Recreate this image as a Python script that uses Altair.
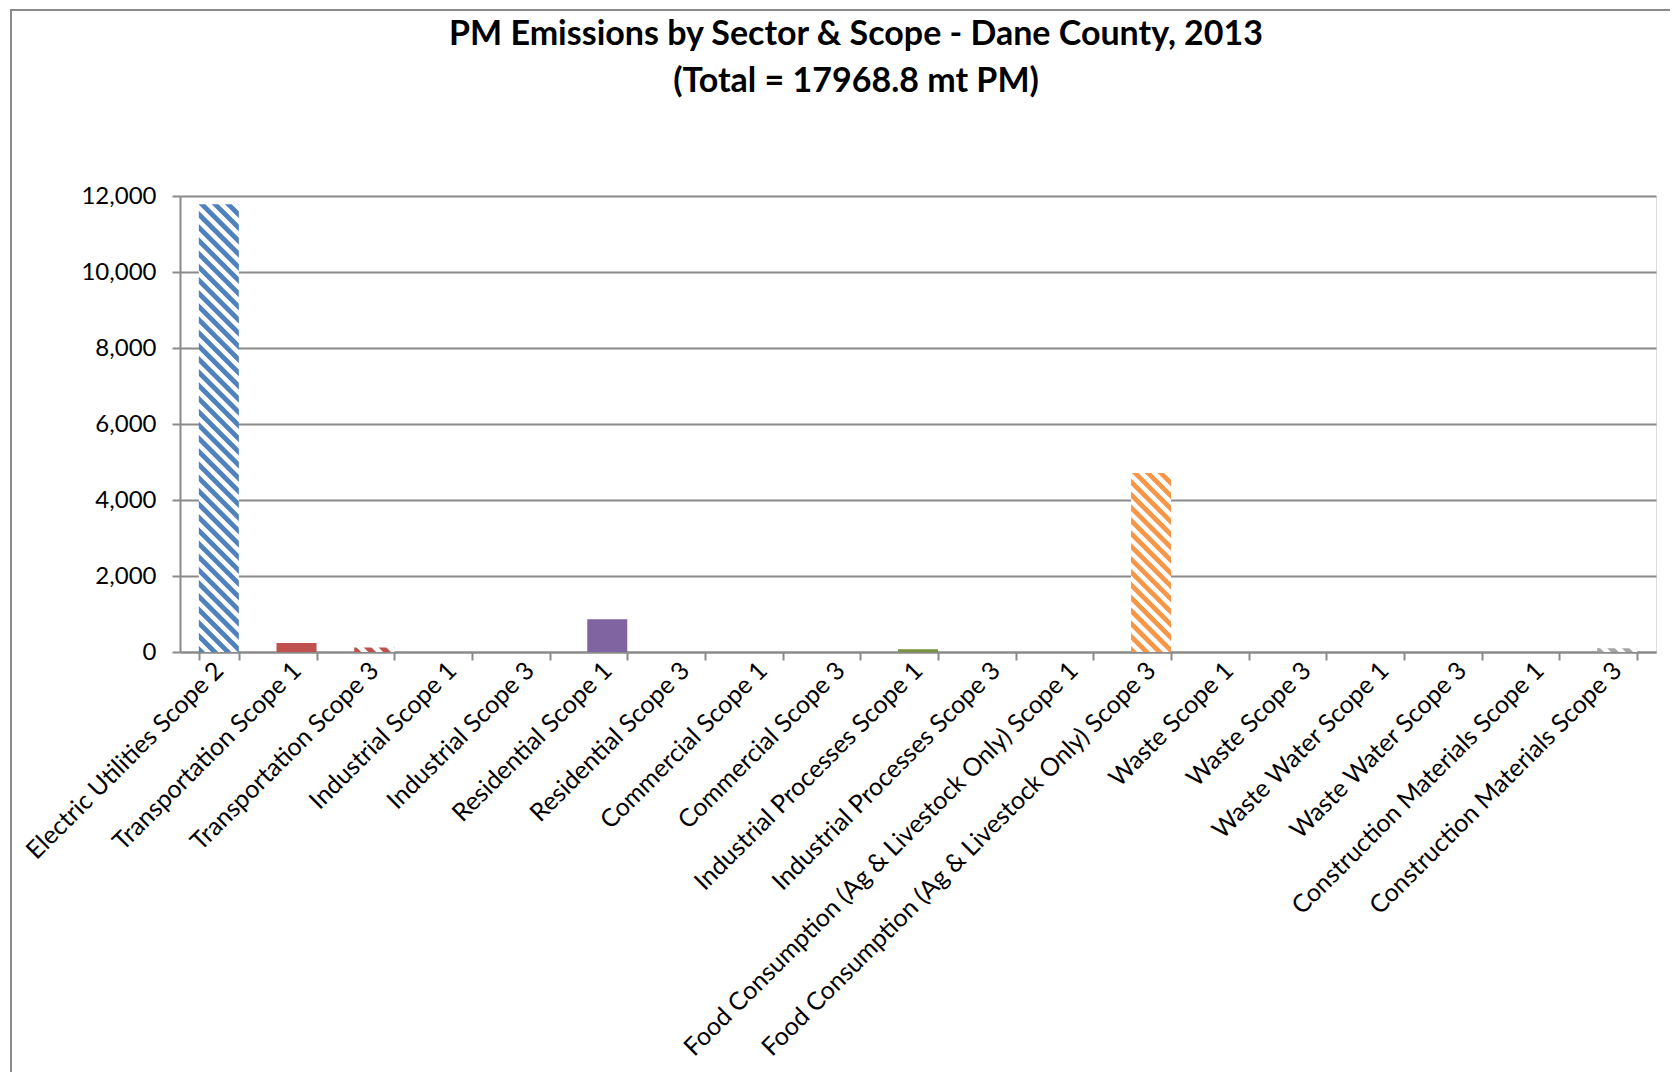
import math
import altair as alt
import pandas as pd

# ---------------- data ----------------
categories = [
    "Electric Utilities Scope 2",
    "Transportation Scope 1",
    "Transportation Scope 3",
    "Industrial Scope 1",
    "Industrial Scope 3",
    "Residential Scope 1",
    "Residential Scope 3",
    "Commercial Scope 1",
    "Commercial Scope 3",
    "Industrial Processes Scope 1",
    "Industrial Processes Scope 3",
    "Food Consumption (Ag & Livestock Only) Scope 1",
    "Food Consumption (Ag & Livestock Only) Scope 3",
    "Waste Scope 1",
    "Waste Scope 3",
    "Waste Water Scope 1",
    "Waste Water Scope 3",
    "Construction Materials Scope 1",
    "Construction Materials Scope 3",
]
values = [11780, 240, 120, 0, 0, 860, 0, 0, 0, 70, 0, 0, 4710, 0, 0, 0, 0, 0, 100]
colors = [
    "#4F81BD", "#C0504D", "#C0504D", "#9BBB59", "#9BBB59", "#8064A2", "#8064A2",
    "#4BACC6", "#4BACC6", "#77933C", "#77933C", "#F79646", "#F79646",
    "#2C4D75", "#2C4D75", "#772C2A", "#772C2A", "#A5A5A5", "#A5A5A5",
]
hatched = [c.endswith("Scope 2") or c.endswith("Scope 3") for c in categories]

y_ticks = [0, 2000, 4000, 6000, 8000, 10000, 12000]
title_lines = ["PM Emissions by Sector & Scope - Dane County, 2013", "(Total = 17968.8 mt PM)"]

df = pd.DataFrame({"cat": categories, "val": values, "color": colors, "hatch": hatched})

# ---------------- layout ----------------
W, H = 1476, 456
PAD_L, PAD_T = 172, 188
Y_MAX = 12000
PAD_INNER = 0.485
FONT = "Lato"
GRID = "#8a8a8a"

step = W / len(categories)  # paddingOuter = PAD_INNER/2 on each side
bar_w = step * (1 - PAD_INNER)

xscale = alt.Scale(domain=categories, paddingInner=PAD_INNER, paddingOuter=PAD_INNER / 2)
yscale = alt.Scale(domain=[0, Y_MAX], nice=False)

xenc = alt.X(
    "cat:N", sort=categories, scale=xscale, title=None,
    axis=alt.Axis(
        labelAngle=-45, labelAlign="right", labelBaseline="middle", labelPadding=6,
        labelFont=FONT, labelFontSize=25, labelColor="#000000", labelLimit=1000,
        tickBand="extent", tickSize=8, tickColor=GRID, tickWidth=2,
        domainColor=GRID, domainWidth=2, grid=False,
    ),
)
yenc = alt.Y(
    "val:Q", scale=yscale, title=None,
    axis=alt.Axis(
        values=y_ticks, format=",d", labelFont=FONT, labelFontSize=24, labelColor="#000000",
        labelPadding=16, tickSize=8, tickColor=GRID, tickWidth=2,
        grid=True, gridColor=GRID, gridWidth=2, domainColor=GRID, domainWidth=2,
    ),
)


def stripe_gradient(color, value):
    h = value / Y_MAX * H
    w = bar_w
    k = (w + h) / (w * w + h * h)
    period = 9.2
    n = max(1, round((w + h) / math.sqrt(2) / period))
    stops = []
    for i in range(n):
        stops += [
            {"offset": (i + 0.0) / n, "color": color},
            {"offset": (i + 0.42) / n, "color": color},
            {"offset": (i + 0.52) / n, "color": "#ffffff"},
            {"offset": (i + 0.90) / n, "color": "#ffffff"},
        ]
    stops.append({"offset": 1.0, "color": color})
    return {"gradient": "linear", "x1": 0, "y1": 1, "x2": k * w, "y2": 1 - k * h, "stops": stops}


base = alt.Chart(df)
layers = [
    base.transform_filter(alt.datum.hatch == False).mark_bar().encode(
        x=xenc, y=yenc, color=alt.Color("color:N", scale=None)
    )
]
for cat, val, col, hat in zip(categories, values, colors, hatched):
    if hat and val > 0:
        layers.append(
            base.transform_filter(alt.datum.cat == cat)
            .mark_bar(fill=stripe_gradient(col, val))
            .encode(x=xenc, y=yenc)
        )

one = pd.DataFrame({"a": [0]})
# Excel chart-area border
frame = alt.Chart(one).mark_rect(filled=False, stroke=GRID, strokeWidth=2).encode(
    x=alt.value(11 - 8 - PAD_L), x2=alt.value(1700 - 8 - PAD_L),
    y=alt.value(10 - 8 - PAD_T), y2=alt.value(1100 - 8 - PAD_T),
)
# chart title (two lines)
title = alt.Chart(one).mark_text(
    text=title_lines, font=FONT, fontSize=34, fontWeight="bold", color="#000000",
    align="center", baseline="middle", lineHeight=47,
).encode(x=alt.value(856 - 8 - PAD_L), y=alt.value(35 - 8 - PAD_T))

layers += [frame, title]

chart = (
    alt.layer(*layers)
    .properties(
        width=W, height=H,
        autosize=alt.AutoSizeParams(type="none"),
        padding={"left": PAD_L, "top": PAD_T, "right": 14, "bottom": 420},
    )
    .configure_view(stroke=None)
    .configure(background="#ffffff")
)

chart.save("out.html", embed_options={"renderer": "svg", "actions": False})
